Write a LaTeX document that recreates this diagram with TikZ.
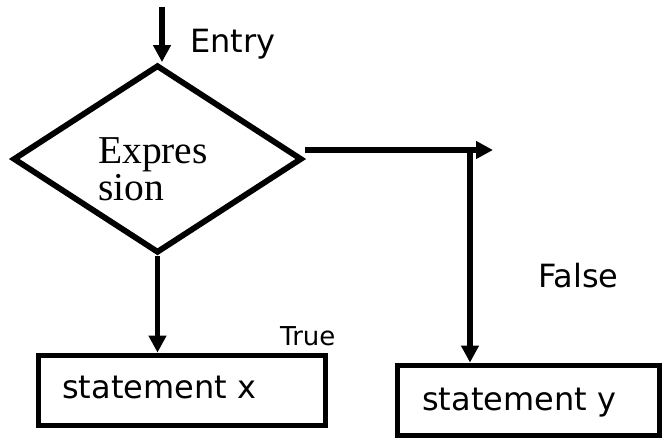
\documentclass[tikz,border=0pt]{standalone}
\usepackage{fontspec}
\setmainfont{Liberation Serif}
\newfontfamily\vsans{DejaVu Sans}
\usetikzlibrary{arrows.meta,shapes.geometric}
\tikzset{
  ln/.style={line width=5.8pt},
  arr/.style={ln,-{Triangle[length=17pt,width=17pt]}},
  boxnode/.style={draw,ln,rectangle,inner sep=0pt},
  dia/.style={draw,ln,diamond,inner sep=0pt,minimum width=289pt,minimum height=188pt},
  sanslbl/.style={font=\vsans\fontsize{32}{32}\selectfont,inner sep=0pt,anchor=base west},
  smalllbl/.style={font=\vsans\fontsize{26}{26}\selectfont,inner sep=0pt,anchor=base west},
  seriflbl/.style={font=\fontsize{39.5}{39.5}\selectfont,inner sep=0pt,anchor=base west}
}
\begin{document}
\begin{tikzpicture}[x=1pt,y=-1pt]
\useasboundingbox (0,0) rectangle (664,439);
\node[dia] (d) at (157.5,159) {};
\node[seriflbl] (e1) at (98,163) {Expres};
\node[seriflbl] (e2) at (98,200) {sion};
\node[boxnode,minimum width=287pt,minimum height=70pt] (bx) at (182,390.5) {};
\node[boxnode,minimum width=262pt,minimum height=70pt] (by) at (528.5,400.5) {};
\node[sanslbl] (tx) at (62,398) {statement x};
\node[sanslbl] (ty) at (422,410) {statement y};
\node[sanslbl] (entry) at (190,52) {Entry};
\node[smalllbl] (true) at (280,345) {True};
\node[sanslbl] (false) at (538,287) {False};
\coordinate (in) at (162,7);
\coordinate (rt) at (493,150);
\coordinate (jn) at (470,147.5);
\draw[arr] (in) -- (in |- d.north);
\draw[arr] (d.south) -- (bx.north -| d.south);
\draw[arr] (d.east |- rt) -- (rt);
\draw[arr] (jn) -- (by.north -| jn);
\end{tikzpicture}
\end{document}
